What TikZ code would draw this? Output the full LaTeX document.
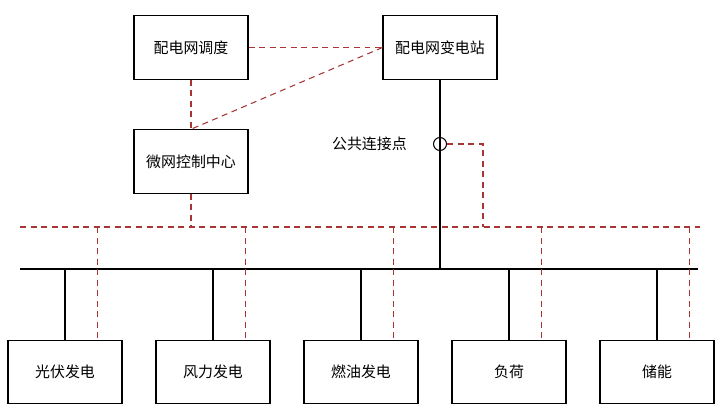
\documentclass[tikz,border=0pt]{standalone}
\usepackage{fontspec}
\newfontfamily\cjk{Noto Sans CJK SC}
\usetikzlibrary{positioning, calc}
\definecolor{c1}{HTML}{000000}
\definecolor{c3}{HTML}{A83434}

\begin{document}
\begin{tikzpicture}[
    every node/.style={font=\cjk\fontsize{8.5}{10}\selectfont},
    unit/.style={
        rectangle, minimum width=2.28cm, minimum height=1.27cm,
        line width=0.6pt, draw=c1, fill=white, inner sep=0pt,
    },
    pwr/.style={line width=0.6pt, color=c1},
    com/.style={line width=0.6pt, color=c3, dash pattern=on 3.4pt off 2.6pt},
    lab/.style={text=c1},
]
\useasboundingbox (0,0) rectangle (14.5,8.22);

% ================================================ upper: dispatch and control
\node[unit] (disp)  at (3.82, 7.27) {配电网调度};
\node[unit] (sub)   at (8.80, 7.27) {配电网变电站};
\node[unit] (mgcc)  at (3.82, 4.99) {微网控制中心};

\draw[com] (disp.east) -- (sub.west);
\draw[com] (disp.south) -- (mgcc.north);
\draw[com] (sub.west) -- (mgcc.north);

% ================================================ buses
\coordinate (busL) at (0.40, 2.84);
\coordinate (busR) at (13.96, 2.84);
\coordinate (comL) at (0.40, 3.68);
\coordinate (comR) at (14.00, 3.68);

\draw[pwr] (busL) -- (busR);
\draw[com] (comL) -- (comR);

% point of common coupling
\node[circle, draw=c1, line width=0.6pt, minimum size=0.26cm, inner sep=0pt]
    (pcc) at (8.80, 5.34) {};
\node[lab, anchor=east] (pcclab) at (8.26, 5.34) {公共连接点};
\draw[pwr] (sub.south) -- (sub.south |- busL);
\coordinate (turn) at (9.66, 5.34);
\draw[com] (pcc.east) -- (turn) -- (turn |- comL);
\draw[com] (mgcc.south) -- (mgcc.south |- comL);

% ================================================ lower: the units
\node[unit] (pv)    at (1.30, 0.78)  {光伏发电};
\node[unit] (wind)  at (4.26, 0.78)  {风力发电};
\node[unit] (fuel)  at (7.22, 0.78)  {燃油发电};
\node[unit] (load)  at (10.18, 0.78) {负荷};
\node[unit] (store) at (13.14, 0.78) {储能};

\foreach \u in {pv, wind, fuel, load, store}{
    \draw[pwr] (\u.north |- busL) -- (\u.north);
    \draw[com] ([xshift=-0.50cm]\u.north east |- comL) -- ([xshift=-0.50cm]\u.north east);
}

\end{tikzpicture}
\end{document}
